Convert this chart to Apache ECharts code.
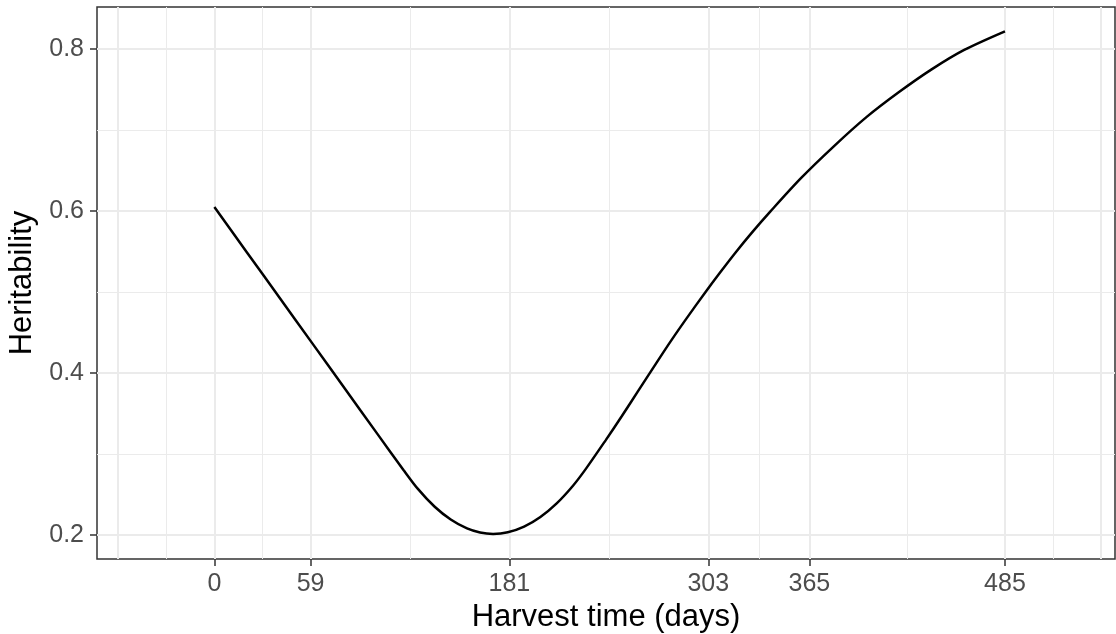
<!DOCTYPE html>
<html>
<head>
<meta charset="utf-8">
<script src="https://cdn.jsdelivr.net/npm/echarts@6/dist/echarts.min.js"></script>
<style>
html,body{margin:0;padding:0;background:#fff;}
#chart{width:1116px;height:634px;}
</style>
</head>
<body>
<div id="chart"></div>
<script>
// ---- data ----
var harvestDays = [0, 20, 40, 60, 80, 100, 116, 125, 135, 145, 155, 163, 171, 180, 190, 200, 210, 220, 228, 240, 250, 260, 270, 280, 290, 301, 310, 320, 330, 341, 360, 380, 400, 420, 440, 460, 485];
var heritability = [0.605, 0.549, 0.493, 0.437, 0.381, 0.325, 0.2805, 0.2567, 0.2353, 0.2192, 0.2082, 0.2032, 0.2015, 0.2035, 0.2105, 0.2224, 0.2392, 0.2610, 0.2821, 0.317, 0.347, 0.378, 0.409, 0.4395, 0.4685, 0.4993, 0.5236, 0.5496, 0.5741, 0.5994, 0.641, 0.680, 0.716, 0.747, 0.775, 0.799, 0.822];
var xTicks = [0, 59, 181, 303, 365, 485];
var xMajorExtra = [-59, 544];
var xMinor = [-29.5, 29.5, 120, 242, 334, 425, 514.5];
var yTicks = [0.2, 0.4, 0.6, 0.8];
var yMinor = [0.3, 0.5, 0.7];

var X_MIN = -72, X_MAX = 552.5, Y_MIN = 0.1705, Y_MAX = 0.852;
var FONT = '"Liberation Sans", Arial, sans-serif';
var GRID = '#EBEBEB';

function hiddenAxis(values, width, extra) {
  var a = {
    type: 'value',
    show: true,
    axisLine: {show: false, onZero: false},
    axisLabel: {show: false},
    axisTick: {show: false, customValues: values},
    splitLine: {show: true, lineStyle: {color: GRID, width: width}}
  };
  for (var k in extra) a[k] = extra[k];
  return a;
}

var chart = echarts.init(document.getElementById('chart'), null, {renderer: 'canvas'});
chart.setOption({
  animation: false,
  backgroundColor: '#ffffff',
  grid: {
    left: 97, right: 1, top: 7, bottom: 75,
    show: true, borderColor: '#333333', borderWidth: 1.5,
    backgroundColor: 'transparent',
    outerBoundsMode: 'none'
  },
  xAxis: [
    {
      type: 'value', min: X_MIN, max: X_MAX, position: 'bottom',
      name: 'Harvest time (days)', nameLocation: 'middle', nameGap: 37,
      nameTextStyle: {fontFamily: FONT, fontSize: 31, color: '#000'},
      axisLine: {show: false, onZero: false},
      axisTick: {show: true, inside: false, length: 7, customValues: xTicks, lineStyle: {color: '#333333', width: 1.5}},
      axisLabel: {show: true, customValues: xTicks, margin: 13, fontFamily: FONT, fontSize: 25, color: '#4D4D4D'},
      splitLine: {show: true, lineStyle: {color: GRID, width: 2}}
    },
    hiddenAxis(xMajorExtra, 2, {min: X_MIN, max: X_MAX, position: 'top'}),
    hiddenAxis(xMinor, 1, {min: X_MIN, max: X_MAX, position: 'top', offset: 10})
  ],
  yAxis: [
    {
      type: 'value', min: Y_MIN, max: Y_MAX, position: 'left',
      name: 'Heritability', nameLocation: 'middle', nameGap: 56,
      nameTextStyle: {fontFamily: FONT, fontSize: 31, color: '#000'},
      axisLine: {show: false, onZero: false},
      axisTick: {show: true, inside: false, length: 7, customValues: yTicks, lineStyle: {color: '#333333', width: 1.5}},
      axisLabel: {show: true, customValues: yTicks, margin: 13, fontFamily: FONT, fontSize: 25, color: '#4D4D4D',
        formatter: function (v) { return v.toFixed(1); }},
      splitLine: {show: true, lineStyle: {color: GRID, width: 2}}
    },
    hiddenAxis(yMinor, 1, {min: Y_MIN, max: Y_MAX, position: 'right'})
  ],
  series: [{
    type: 'line',
    xAxisIndex: 0, yAxisIndex: 0,
    data: harvestDays.map(function (d, i) { return [d, heritability[i]]; }),
    showSymbol: false,
    smooth: 0.3,
    lineStyle: {color: '#000000', width: 2.5},
    z: 5
  }]
});
</script>
</body>
</html>
